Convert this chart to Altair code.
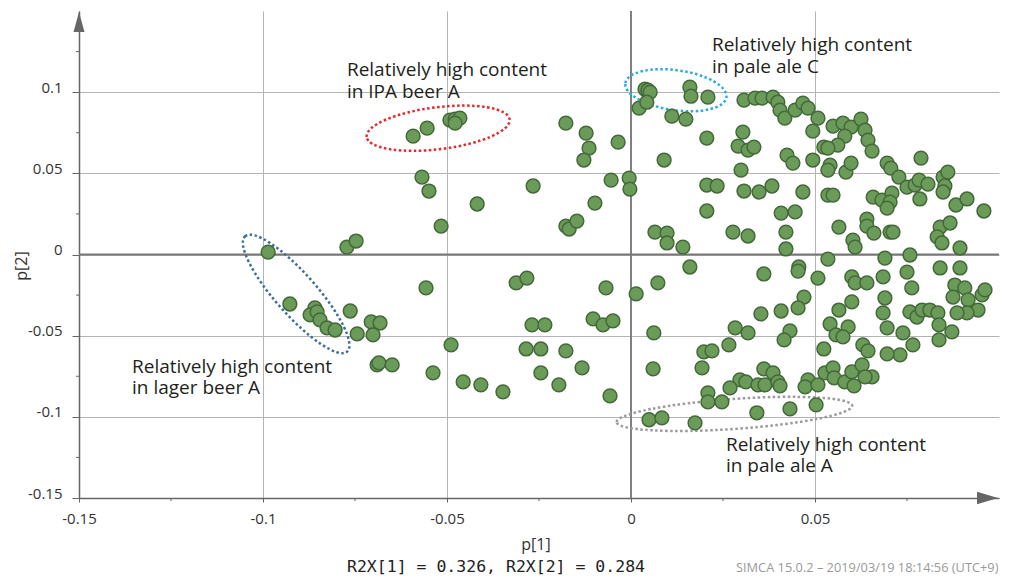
import altair as alt
import pandas as pd

# ---------------- data ----------------
# group A: lager / IPA / left part
a_p1 = [-0.0986, -0.0772, -0.0747, -0.0927, -0.0859, -0.0872, -0.0853, -0.0845, -0.0826, -0.0804,
        -0.0763, -0.0744, -0.0706, -0.0682, -0.0701, -0.0690, -0.0685, -0.0649, -0.0557, -0.0538,
        -0.0489, -0.0456, -0.0408, -0.0348, -0.0312, -0.0283, -0.0269, -0.0234, -0.0285, -0.0245,
        -0.0245, -0.0592, -0.0554, -0.0492, -0.0478, -0.0465, -0.0478, -0.0568, -0.0549, -0.0418,
        -0.0516, -0.0266]
a_p2 = [0.0015, 0.0046, 0.0083, -0.0305, -0.0329, -0.0372, -0.0354, -0.0403, -0.0452, -0.0465,
        -0.0348, -0.0489, -0.0415, -0.0422, -0.0495, -0.0680, -0.0668, -0.0680, -0.0206, -0.0729,
        -0.0557, -0.0785, -0.0803, -0.0846, -0.0175, -0.0145, -0.0434, -0.0434, -0.0582, -0.0582,
        -0.0729, 0.0729, 0.0778, 0.0828, 0.0834, 0.0840, 0.0809, 0.0477, 0.0391, 0.0311,
        0.0175, 0.0422]

# group B: around p[1] = 0
b_p1 = [-0.0177, -0.0196, -0.0133, -0.0103, -0.0076, -0.0049, -0.0068, -0.0057, 0.0014, 0.0073,
        0.0062, 0.0060, 0.0049, 0.0084, -0.0177, -0.0122, -0.0114, -0.0128, -0.0035, -0.0054,
        -0.0005, -0.0003, -0.0098, -0.0177, -0.0168, -0.0147, 0.0038, 0.0046, 0.0052, 0.0022,
        0.0043, 0.0160, 0.0163, 0.0209, 0.0111, 0.0149, 0.0206, 0.0090, 0.0206, 0.0206,
        0.0065, 0.0098, 0.0098, 0.0141, 0.0160, 0.0198, 0.0193, 0.0209, 0.0209, 0.0174]
b_p2 = [-0.0594, -0.0803, -0.0698, -0.0397, -0.0434, -0.0409, -0.0206, -0.0871, -0.0243, -0.0175,
        -0.0483, -0.0705, -0.1018, -0.1006, 0.0809, 0.0748, 0.0655, 0.0582, 0.0692, 0.0458,
        0.0471, 0.0403, 0.0317, 0.0175, 0.0157, 0.0206, 0.1018, 0.1012, 0.1000, 0.0902,
        0.0938, 0.1031, 0.0975, 0.0969, 0.0852, 0.0834, 0.0717, 0.0582, 0.0428, 0.0268,
        0.0138, 0.0132, 0.0071, 0.0046, -0.0077, -0.0600, -0.0698, -0.0852, -0.0908, -0.1037]

# group C: p[1] between 0.02 and 0.06
c_p1 = [0.0307, 0.0337, 0.0356, 0.0386, 0.0399, 0.0405, 0.0418, 0.0446, 0.0467, 0.0481,
        0.0508, 0.0494, 0.0549, 0.0576, 0.0598, 0.0581, 0.0562, 0.0524, 0.0535, 0.0494,
        0.0541, 0.0535, 0.0584, 0.0598, 0.0304, 0.0291, 0.0318, 0.0334, 0.0424, 0.0440,
        0.0299, 0.0234, 0.0307, 0.0348, 0.0383, 0.0467, 0.0535, 0.0549, 0.0408, 0.0446,
        0.0277, 0.0318, 0.0421, 0.0421, 0.0565, 0.0603, 0.0609, 0.0535, 0.0361, 0.0456,
        0.0454, 0.0508, 0.0470, 0.0454, 0.0408, 0.0353, 0.0283, 0.0318, 0.0266, 0.0432,
        0.0416, 0.0220, 0.0541, 0.0565, 0.0600, 0.0600, 0.0590, 0.0557, 0.0576, 0.0524,
        0.0361, 0.0386, 0.0296, 0.0312, 0.0345, 0.0364, 0.0399, 0.0405, 0.0269, 0.0247,
        0.0481, 0.0473, 0.0508, 0.0527, 0.0549, 0.0552, 0.0581, 0.0600, 0.0606, 0.0342,
        0.0432, 0.0503]
c_p2 = [0.0951, 0.0963, 0.0963, 0.0969, 0.0938, 0.0889, 0.0840, 0.0889, 0.0932, 0.0902,
        0.0840, 0.0760, 0.0791, 0.0809, 0.0785, 0.0729, 0.0674, 0.0662, 0.0655, 0.0582,
        0.0551, 0.0520, 0.0508, 0.0563, 0.0754, 0.0668, 0.0643, 0.0662, 0.0612, 0.0563,
        0.0520, 0.0422, 0.0391, 0.0385, 0.0422, 0.0385, 0.0366, 0.0366, 0.0255, 0.0262,
        0.0138, 0.0114, 0.0138, 0.0034, 0.0169, 0.0089, 0.0046, -0.0028, -0.0120, -0.0077,
        -0.0102, -0.0145, -0.0262, -0.0329, -0.0348, -0.0366, -0.0452, -0.0483, -0.0557, -0.0471,
        -0.0526, -0.0594, -0.0428, -0.0342, -0.0292, -0.0138, -0.0446, -0.0495, -0.0508, -0.0582,
        -0.0705, -0.0729, -0.0772, -0.0785, -0.0803, -0.0803, -0.0785, -0.0809, -0.0822, -0.0908,
        -0.0772, -0.0815, -0.0803, -0.0729, -0.0698, -0.0760, -0.0785, -0.0723, -0.0809, -0.0975,
        -0.0951, -0.0926]

# group D: right edge, p[1] > 0.06
d_p1 = [0.0625, 0.0636, 0.0644, 0.0655, 0.0696, 0.0706, 0.0728, 0.0750, 0.0772, 0.0783,
        0.0807, 0.0785, 0.0788, 0.0848, 0.0861, 0.0853, 0.0848, 0.0883, 0.0913, 0.0959,
        0.0658, 0.0682, 0.0709, 0.0704, 0.0696, 0.0641, 0.0641, 0.0660, 0.0704, 0.0712,
        0.0840, 0.0867, 0.0832, 0.0845, 0.0894, 0.0690, 0.0758, 0.0750, 0.0763, 0.0840,
        0.0894, 0.0609, 0.0641, 0.0685, 0.0690, 0.0685, 0.0696, 0.0758, 0.0777, 0.0791,
        0.0812, 0.0834, 0.0837, 0.0837, 0.0872, 0.0880, 0.0907, 0.0875, 0.0916, 0.0954,
        0.0962, 0.0943, 0.0913, 0.0886, 0.0739, 0.0766, 0.0731, 0.0696, 0.0630, 0.0644,
        0.0628, 0.0655, 0.0636]
d_p2 = [0.0834, 0.0766, 0.0705, 0.0637, 0.0563, 0.0532, 0.0477, 0.0415, 0.0428, 0.0458,
        0.0434, 0.0342, 0.0594, 0.0477, 0.0508, 0.0422, 0.0385, 0.0305, 0.0342, 0.0268,
        0.0354, 0.0335, 0.0378, 0.0323, 0.0286, 0.0218, 0.0175, 0.0132, 0.0138, 0.0138,
        0.0169, 0.0194, 0.0108, 0.0071, 0.0040, -0.0022, -0.0003, -0.0108, -0.0206, -0.0083,
        -0.0083, -0.0175, -0.0175, -0.0138, -0.0268, -0.0360, -0.0452, -0.0354, -0.0385, -0.0342,
        -0.0342, -0.0360, -0.0434, -0.0526, -0.0477, -0.0188, -0.0206, -0.0262, -0.0280, -0.0249,
        -0.0218, -0.0342, -0.0360, -0.0360, -0.0483, -0.0557, -0.0618, -0.0612, -0.0557, -0.0594,
        -0.0680, -0.0754, -0.0754]

x_ticks = [-0.15, -0.1, -0.05, 0, 0.05]
y_ticks = [-0.15, -0.1, -0.05, 0, 0.05, 0.1]
x_minor = [-0.125, -0.075, -0.025, 0.025, 0.075]
y_minor = [-0.125, -0.075, -0.025, 0.025, 0.075, 0.125]

ann_text = ["Relatively high content\nin IPA beer A",
            "Relatively high content\nin pale ale C",
            "Relatively high content\nin lager beer A",
            "Relatively high content\nin pale ale A"]
ann_p1 = [-0.0772, 0.0220, -0.1356, 0.0258]
ann_p2 = [0.1098, 0.1252, -0.0729, -0.1209]

ell_p1 = [-0.0524, 0.0122, -0.0910, 0.0281]
ell_p2 = [0.0778, 0.1012, -0.0243, -0.0982]
# ellipse geometry (pixels / degrees) and colours
ell_half_major = [72, 51, 77, 118]
ell_half_minor = [21, 20, 20.5, 15]
ell_angle = [353, 8, 48.5, 356]
ell_color = ["#e8262b", "#29abe2", "#3c6e9b", "#9b9b9b"]

# ---------------- build chart ----------------
W, H = 920, 487
FONT = "Open Sans"

df = pd.DataFrame({"p1": a_p1 + b_p1 + c_p1 + d_p1,
                   "p2": a_p2 + b_p2 + c_p2 + d_p2})

xscale = alt.Scale(domain=[-0.15, 0.1], nice=False, zero=False)
yscale = alt.Scale(domain=[-0.15, 0.15], nice=False, zero=False)


def ellipse_path(r):
    k = 0.5523
    return (f"M-1,0C-1,{-k*r:.4f} {-k:.4f},{-r:.4f} 0,{-r:.4f}"
            f"C{k:.4f},{-r:.4f} 1,{-k*r:.4f} 1,0"
            f"C1,{k*r:.4f} {k:.4f},{r:.4f} 0,{r:.4f}"
            f"C{-k:.4f},{r:.4f} -1,{k*r:.4f} -1,0Z")


ell_df = pd.DataFrame({
    "p1": ell_p1, "p2": ell_p2,
    "shape": [ellipse_path(b / a) for a, b in zip(ell_half_major, ell_half_minor)],
    "size": [(2 * a) ** 2 for a in ell_half_major],
    "angle": ell_angle,
    "col": ell_color,
})

ann_df = pd.DataFrame({"p1": ann_p1, "p2": ann_p2, "label": ann_text})

one = pd.DataFrame({"k": [0]})

x_axis = alt.Axis(values=x_ticks, grid=True, gridColor="#b4b4b4", gridWidth=1,
                  domainColor="#666666", domainWidth=1.5, tickColor="#666666",
                  tickSize=4, tickWidth=1, labelExpr="'' + datum.value",
                  labelFont=FONT, labelFontSize=15, labelColor="#333333",
                  labelPadding=9, labelBaseline="top", labelFlush=False,
                  labelOverlap=False, title=None)
y_axis = alt.Axis(values=y_ticks, grid=True, gridColor="#b4b4b4", gridWidth=1,
                  domainColor="#666666", domainWidth=1.5, tickColor="#666666",
                  tickSize=7, tickWidth=1, labelExpr="'' + datum.value",
                  labelFont=FONT, labelFontSize=15, labelColor="#333333",
                  labelPadding=10, labelBaseline="alphabetic", labelAlign="right",
                  labelFlush=False, labelOverlap=False, title=None)


def X():
    return alt.X("p1:Q", scale=xscale, axis=x_axis)


def Y():
    return alt.Y("p2:Q", scale=yscale, axis=y_axis)


zero_v = alt.Chart(pd.DataFrame({"p1": [0]})).mark_rule(color="#808080", strokeWidth=2).encode(x=X())
zero_h = alt.Chart(pd.DataFrame({"p2": [0]})).mark_rule(color="#787878", strokeWidth=2).encode(y=Y())

xminor_l = alt.Chart(pd.DataFrame({"p1": x_minor})).mark_rule(color="#666666", strokeWidth=1).encode(
    x=X(), y=alt.value(H), y2=alt.value(H + 3))
yminor_l = alt.Chart(pd.DataFrame({"p2": y_minor})).mark_rule(color="#666666", strokeWidth=1).encode(
    y=Y(), x=alt.value(-3), x2=alt.value(0))

y_arrow = alt.Chart(one).mark_point(shape="M0,-1L0.55,1L-0.55,1Z", size=400, filled=True,
                                    color="#666666", opacity=1, strokeWidth=0).encode(
    x=alt.value(0), y=alt.value(11))
x_arrow = alt.Chart(one).mark_point(shape="M1,0L-1,0.6L-1,-0.6Z", size=441, filled=True,
                                    color="#666666", opacity=1, strokeWidth=0).encode(
    x=alt.value(908.5), y=alt.value(H))

ellipses = alt.Chart(ell_df).mark_point(filled=False, strokeWidth=2.5, strokeDash=[2.5, 2.5],
                                        opacity=1).encode(
    x=X(), y=Y(),
    shape=alt.Shape("shape:N", scale=None),
    size=alt.Size("size:Q", scale=None),
    angle=alt.Angle("angle:Q", scale=None),
    stroke=alt.Stroke("col:N", scale=None),
)

points = alt.Chart(df).mark_circle(size=190, color="#6b9b59", stroke="#44693a",
                                   strokeWidth=1.5, opacity=1).encode(x=X(), y=Y())

annotations = alt.Chart(ann_df).mark_text(align="left", baseline="alphabetic", font=FONT,
                                          fontSize=19, color="#231f20", lineBreak="\n",
                                          lineHeight=21.5).encode(
    x=X(), y=Y(), text="label:N")

y_title = alt.Chart(one).mark_text(text="p[2]", font=FONT, fontSize=16, color="#333333",
                                   angle=270, align="center", baseline="middle").encode(
    x=alt.value(-57), y=alt.value(255))
x_title = alt.Chart(one).mark_text(text="p[1]", font=FONT, fontSize=16, color="#333333",
                                   align="center", baseline="middle").encode(
    x=alt.value(457), y=alt.value(534))
r2x = alt.Chart(one).mark_text(text="R2X[1] = 0.326, R2X[2] = 0.284", font="DejaVu Sans Mono",
                               fontSize=16.5, color="#222222", align="left",
                               baseline="alphabetic").encode(
    x=alt.value(268), y=alt.value(561))
simca = alt.Chart(one).mark_text(text="SIMCA 15.0.2 \u2013 2019/03/19 18:14:56 (UTC+9)", font=FONT,
                                 fontSize=12.8, color="#9a9a9a", align="left",
                                 baseline="alphabetic").encode(
    x=alt.value(657), y=alt.value(561))

chart = alt.layer(
    zero_v, zero_h, xminor_l, yminor_l, ellipses, points, annotations,
    y_arrow, x_arrow, y_title, x_title, r2x, simca,
).properties(
    width=W, height=H,
    autosize=alt.AutoSizeParams(type="none"),
    padding={"left": 71, "top": 3, "right": 5, "bottom": 77},
    background="white",
).configure_view(strokeWidth=0)

chart.save("out.html", embed_options={"renderer": "svg", "actions": False})
